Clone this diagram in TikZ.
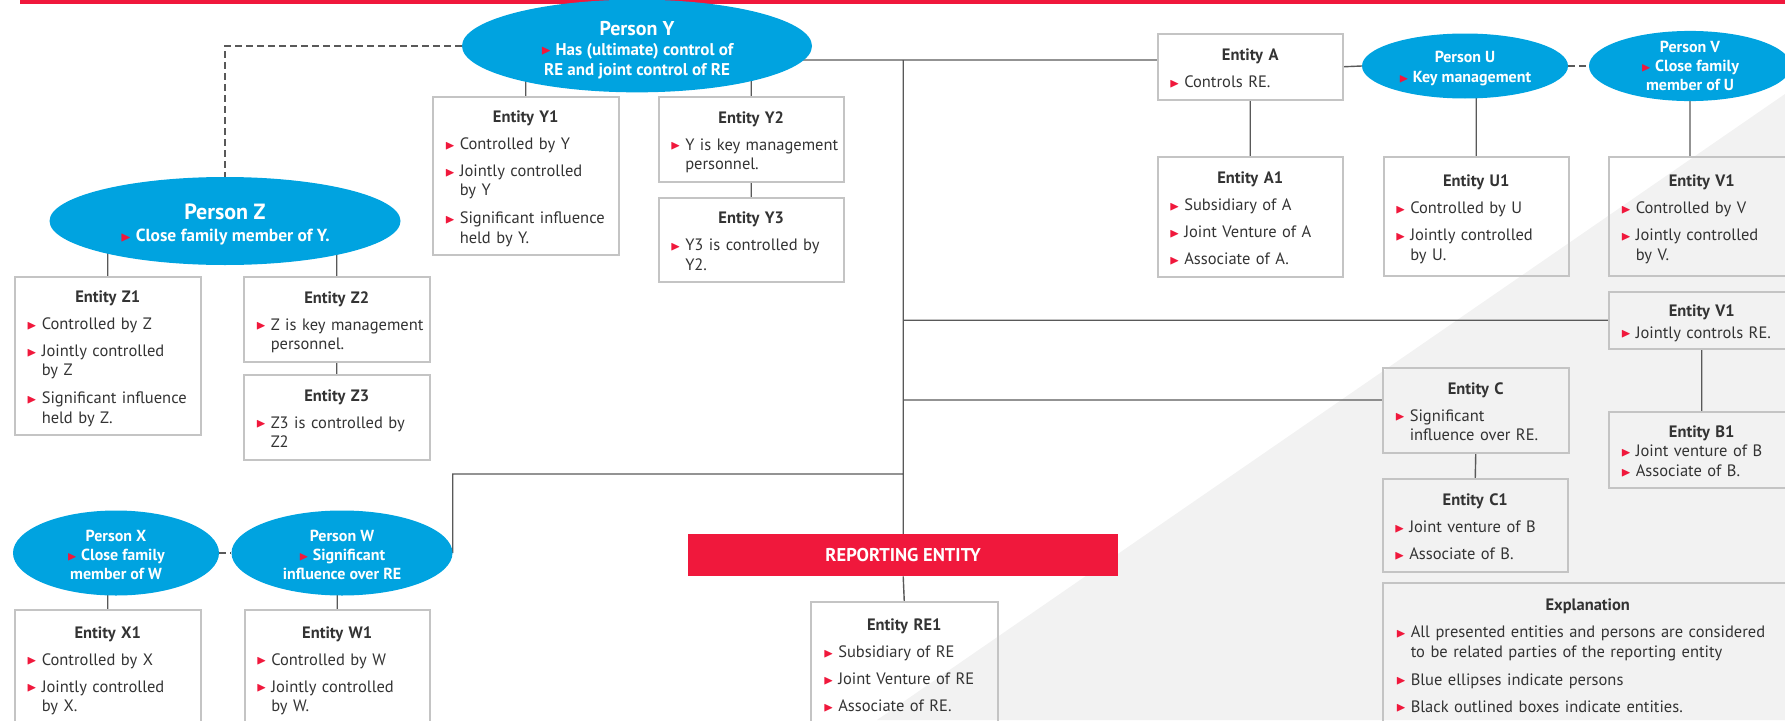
\documentclass[tikz,border=0pt]{standalone}
\usepackage{amssymb}
\usepackage{fontspec}
\setmainfont{PT Sans}
\usepackage{tikz}
\usetikzlibrary{shapes,positioning,backgrounds}

\definecolor{kblue}{RGB}{0,163,224}
\definecolor{kred}{RGB}{240,24,60}
\definecolor{ktext}{RGB}{51,51,51}
\definecolor{kline}{RGB}{89,89,89}
\definecolor{kbox}{RGB}{196,196,196}
\definecolor{kshade}{RGB}{242,242,242}

\newcommand{\tri}{\textcolor{kred}{\raisebox{0.3pt}{\scalebox{0.8}{$\blacktriangleright$}}}}
\newcommand{\ttl}[1]{\makebox[\linewidth][c]{\rule{0pt}{20pt}\bfseries #1}\par}
\newcommand{\itm}[2][7.5pt]{\par\vspace{#1}\noindent\makebox[15pt][l]{\tri}\begin{tabular}[t]{@{}l@{}}#2\end{tabular}\par}

\begin{document}
\begin{tikzpicture}[x=1pt,y=-1pt,
    person/.style={ellipse,fill=kblue,text=white,inner sep=0pt,align=center,
        font=\fontsize{16}{19}\selectfont\bfseries},
    entity/.style={rectangle,draw=kbox,line width=1.5pt,inner sep=0pt,anchor=north west,
        text width=162pt,align=left,text=ktext,font=\fontsize{16.5}{19.5}\selectfont},
    link/.style={draw=kline,line width=1.4pt},
    famlink/.style={link,dash pattern=on 7pt off 4pt}]
    \useasboundingbox (0,0) rectangle (1785,720);
    \fill[kred] (20,0) rectangle (1785,4);

    \node[person,minimum width=350pt,minimum height=82pt,font=\fontsize{17}{20}\selectfont\bfseries] (PY) at (637,46)
        {{\fontsize{20}{20}\selectfont\rule{0pt}{22pt}Person Y}\\\tri\ Has (ultimate) control of\\RE and joint control of RE};
    \node[person,minimum width=351pt,minimum height=88pt,font=\fontsize{17.5}{22}\selectfont\bfseries] (PZ) at (225,221)
        {{\fontsize{22}{22}\selectfont\rule{0pt}{23pt}Person Z}\\\tri\ Close family member of Y.};
    \node[person,minimum width=206pt,minimum height=65pt,font=\fontsize{16}{20}\selectfont\bfseries] (PU) at (1465,66)
        {\rule{0pt}{17pt}Person U\\\tri\ Key management};
    \node[person,minimum width=202pt,minimum height=65pt] (PV) at (1690,66)
        {Person V\\\tri\ Close family\\member of U};
    \node[person,minimum width=206pt,minimum height=85pt] (PX) at (116,553)
        {\rule{0pt}{16pt}Person X\\\tri\ Close family\\member of W};
    \node[person,minimum width=221pt,minimum height=85pt] (PW) at (342,553)
        {\rule{0pt}{16pt}Person W\\\tri\ Significant\\influence over RE};

    \node[entity,minimum width=186pt,minimum height=158pt] (Y1) at (432,96)
        {\ttl{Entity Y1}\itm{Controlled by Y}\itm{Jointly controlled\\by Y}\itm{Significant influence\\held by Y.}};
    \node[entity,minimum width=185pt,minimum height=85pt] (Y2) at (658,96)
        {\ttl{Entity Y2}\itm{Y is key management\\personnel.}};
    \node[entity,minimum width=185pt,minimum height=84pt] (Y3) at (658,197)
        {\ttl{Entity Y3}\itm{Y3 is controlled by\\Y2.}};
    \node[entity,minimum width=186pt,minimum height=158pt] (Z1) at (14,276)
        {\ttl{Entity Z1}\itm{Controlled by Z}\itm{Jointly controlled\\by Z}\itm{Significant influence\\held by Z.}};
    \node[entity,minimum width=186pt,minimum height=85pt] (Z2) at (243,276)
        {\ttl{Entity Z2}\itm{Z is key management\\personnel.}};
    \node[entity,minimum width=186pt,minimum height=85pt] (Z3) at (243,374)
        {\ttl{Entity Z3}\itm{Z3 is controlled by\\Z2}};
    \node[entity,minimum width=185pt,minimum height=66pt] (EA) at (1157,33)
        {\ttl{Entity A}\itm{Controls RE.}};
    \node[entity,minimum width=185pt,minimum height=120pt] (A1) at (1157,156)
        {\ttl{Entity A1}\itm{Subsidiary of A}\itm{Joint Venture of A}\itm{Associate of A.}};
    \node[entity,minimum width=185pt,minimum height=119pt] (U1) at (1383,156)
        {\ttl{Entity U1}\itm{Controlled by U}\itm{Jointly controlled\\by U.}};
    \node[entity,minimum width=186pt,minimum height=119pt] (V1) at (1608,156)
        {\ttl{Entity V1}\itm{Controlled by V}\itm{Jointly controlled\\by V.}};
    \node[entity,minimum width=186pt,minimum height=57pt] (EV) at (1608,291)
        {\ttl{Entity V1}\itm[2pt]{Jointly controls RE.}};
    \node[entity,minimum width=186pt,minimum height=76pt] (B1) at (1608,411)
        {\ttl{Entity B1}\itm[0pt]{Joint venture of B}\itm[0pt]{Associate of B.}};
    \node[entity,minimum width=186pt,minimum height=85pt] (EC) at (1382,367)
        {\ttl{Entity C}\itm{Significant\\influence over RE.}};
    \node[entity,minimum width=185pt,minimum height=93pt] (C1) at (1382,478)
        {\ttl{Entity C1}\itm{Joint venture of B}\itm{Associate of B.}};
    \node[anchor=north west,fill=kred,text=white,minimum width=430pt,minimum height=42pt,inner sep=0pt,
        font=\fontsize{18.5}{20}\selectfont\bfseries] (RE) at (688,534) {REPORTING ENTITY};
    \node[entity,minimum width=187pt,minimum height=124pt] (RE1) at (810,601)
        {\ttl{Entity RE1}\itm{Subsidiary of RE}\itm{Joint Venture of RE}\itm{Associate of RE.}};
    \node[entity,minimum width=186pt,minimum height=116pt] (X1) at (14,609)
        {\ttl{Entity X1}\itm{Controlled by X}\itm{Jointly controlled\\by X.}};
    \node[entity,minimum width=185pt,minimum height=116pt] (W1) at (244,609)
        {\ttl{Entity W1}\itm{Controlled by W}\itm{Jointly controlled\\by W.}};
    \node[entity,minimum width=410pt,minimum height=143pt,text width=384pt] (EX) at (1382,582)
        {\ttl{Explanation}\itm{All presented entities and persons are considered\\to be related parties of the reporting entity}\itm{Blue ellipses indicate persons}\itm{Black outlined boxes indicate entities.}};

    \coordinate (top) at (RE.north |- 0,60);
    \coordinate (wfork) at (RE.north |- 0,474);

    \begin{scope}[on background layer]
        \fill[kshade] (877,720) -- (1785,94) -- (1785,720) -- cycle;
        \path[link]
            (PY.center |- top) -- (EA.west |- top)
            (top) -- (RE.north)
            (top |- EV.west) -- (EV.west)
            (top |- 0,400) -- (EC.west |- 0,400)
            (wfork) -| (PW.east)
            (RE.south) -- (RE1.north)
            (EA.east) -- (PU.west)
            (Y1.north) -- (Y1.north |- PY.center)
            (Y2.north) -- (Y2.north |- PY.center)
            (Y2.south) -- (Y3.north)
            (Z1.north) -- (Z1.north |- PZ.center)
            (Z2.north) -- (Z2.north |- PZ.center)
            (Z2.south) -- (Z3.north)
            (EA.south) -- (A1.north)
            (U1.north) -- (U1.north |- PU.center)
            (PV.center) -- (PV.center |- V1.north)
            (EV.south) -- (B1.north)
            (EC.south) -- (C1.north)
            (X1.north) -- (X1.north |- PX.center)
            (W1.north) -- (W1.north |- PW.center);
        \path[famlink]
            (PY.west) -| (PZ.north)
            (PU.east) -- (PV.west)
            (PX.east) -- (PW.west);
    \end{scope}
\end{tikzpicture}
\end{document}
